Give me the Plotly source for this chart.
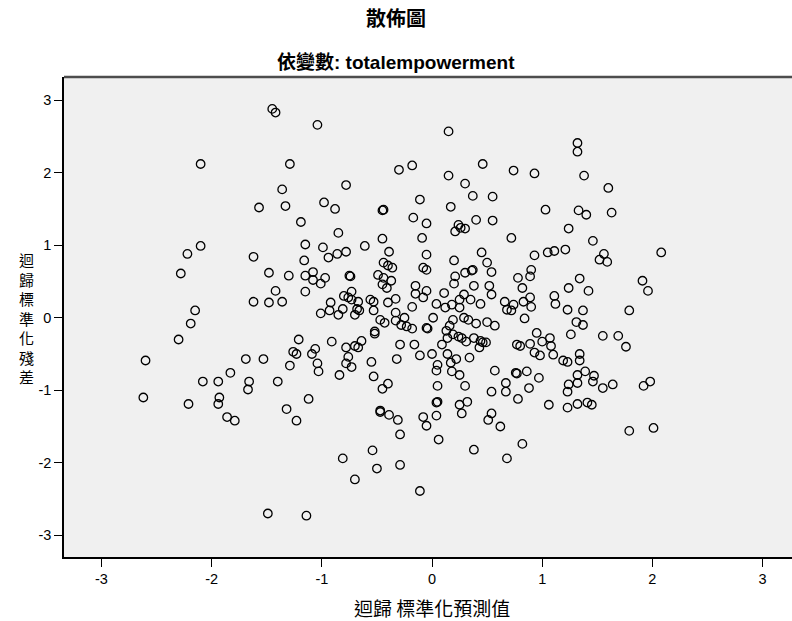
import plotly.graph_objects as go

# Standardized predicted value (x) and standardized residual (y) for each case
pred = [
    -1.45, -1.42, -2.10, -1.29, -1.36, -1.57, -1.33, -1.19,
    -1.04, 0.15, -0.30, -0.18, 0.46, 0.74, 0.93, -0.78, 0.15, 0.30, 0.37, 0.55,
    -0.98, -0.88, -0.44, -0.45, -0.11, 0.17, 1.03, -0.17, -0.05, 0.24, 0.26, 0.30,
    0.21, 0.40, 0.55, -0.85, -0.45, -0.09, 0.72,
    1.32, 1.32, 1.38, 1.60, 1.33, 1.40, 1.63, 1.24, 1.46,
    -2.10, -2.22, -2.28, -1.62, -1.15, -1.16, -1.15, -1.15, -1.48, -1.30, -1.42,
    -1.62, -1.48, -1.36, -2.15, -2.19, -2.30, -1.21, -1.26, -1.23, -2.60, -1.69,
    -1.53, -1.29, -1.83, -2.08, -1.94, -1.66, -1.67, -1.40, -2.62, -1.93, -2.21,
    -1.94, -1.12,
    -1.86, -1.79, -1.32, -1.23, -1.49, -1.14,
    -0.47, -0.47, -0.39, -0.31, -0.08, -0.05, 0.04, 0.05, 0.04, 0.25, 0.32, 0.27,
    0.54, 0.51, 0.62, 0.78, 1.06, -0.29, 0.06, -0.54, -0.81, -0.50, -0.29, -0.70,
    0.38, 0.68, 0.82, -0.11,
    1.23, 1.32, 1.41, 1.45, 1.79, 2.01,
    1.05, 1.11, 1.21, 1.56, 1.52, 1.59, 2.08, 1.34, 1.24, 1.42, 1.91, 1.96, 1.11,
    1.12, 1.23, 1.37, 1.79, 1.31, 1.37, 1.26, 1.55, 1.69, 1.76, 1.07, 1.08, 1.10,
    1.19, 1.23, 1.34, 1.34, 1.39, 1.32, 1.47, 1.32, 1.46, 1.24, 1.23, 1.55, 1.64,
    1.98, 1.92,
    -0.61, -0.99, -0.94, -0.86, -0.78, -0.39, -0.05, 0.45, 0.93, 0.20, 0.50, -0.44,
    -0.40, -0.36, -0.08, -0.05, 0.37, 0.36, 0.54, 0.30, 0.90, 0.89, -1.08, -0.97,
    -1.08, -1.01, -0.75, -0.74, -0.49, -0.44, -0.37, 0.21, 0.20, 0.78, -0.45, -0.41,
    -0.73, -0.15, -0.15, -0.05, -0.08, 0.38, 0.52, 0.54, 0.82, 0.11, 0.29, -0.80,
    -0.76, -0.73, -0.67, -0.56, -0.53, -0.33, -0.40, 0.35, 0.44, 0.25, 0.04, 0.12,
    0.18, 0.25, 0.66, 0.74, 0.68, 0.72, 0.83, 0.89, 0.90, -0.92, -0.93, -1.01,
    -0.85, -0.81, -0.68, -0.66, -0.70, -0.18, -0.53, -0.33, -0.33, -0.47, -0.43,
    -0.25, 0.01, 0.19, 0.29, 0.33, 0.40, 0.50, 0.57, 0.84, -0.28, -0.23, -0.18,
    -0.05, -0.04, 0.16, -0.52, -0.52, 0.13, 0.14, 0.19, 0.24, 0.27, 0.31, 0.38,
    0.44, 0.46, 0.49, 0.43, 0.95, 1.00, 0.77, 0.80, 0.89, 0.93, 0.98, 0.09, -1.06,
    -1.09, -1.04, -1.03, -0.91, -0.78, -0.76, -0.78, -0.73, -0.70, -0.67, -0.64,
    -0.29, -0.16, -0.11, 0.00, 0.14, 0.22, 0.34, -0.32, -0.55, 0.05, 0.04, 0.17,
    0.18, 0.25, -0.84, -0.53, -0.40, -0.45, 0.05, 0.30, 0.57, 0.76, 0.77, 0.86,
    0.97, 0.67, 0.67, 0.88, 0.54,
]

resid = [
    2.88, 2.83, 2.12, 2.12, 1.77, 1.52, 1.54, 1.32,
    2.66, 2.57, 2.04, 2.10, 2.12, 2.03, 1.99, 1.83, 1.96, 1.85, 1.68, 1.67,
    1.59, 1.50, 1.49, 1.48, 1.63, 1.53, 1.49, 1.38, 1.30, 1.28, 1.24, 1.23,
    1.19, 1.35, 1.34, 1.17, 1.09, 1.10, 1.10,
    2.41, 2.29, 1.96, 1.79, 1.48, 1.42, 1.45, 1.23, 1.06,
    0.99, 0.88, 0.61, 0.84, 1.01, 0.79, 0.58, 0.36, 0.62, 0.58, 0.37,
    0.22, 0.21, 0.22, 0.10, -0.08, -0.30, -0.30, -0.47, -0.50, -0.59, -0.57,
    -0.57, -0.66, -0.76, -0.88, -0.88, -0.88, -0.99, -0.88, -1.10, -1.10, -1.19,
    -1.19, -1.12,
    -1.37, -1.42, -1.26, -1.42, -2.70, -2.73,
    -1.28, -1.30, -1.34, -1.41, -1.37, -1.49, -1.35, -1.16, -1.17, -1.20, -1.16, -1.32,
    -1.32, -1.41, -1.50, -1.12, -1.20, -1.61, -1.68, -1.83, -1.94, -2.08, -2.03, -2.23,
    -1.82, -1.94, -1.74, -2.39,
    -1.24, -1.19, -1.17, -1.20, -1.56, -1.52,
    0.90, 0.92, 0.94, 0.88, 0.80, 0.77, 0.90, 0.54, 0.41, 0.37, 0.51, 0.37, 0.30,
    0.19, 0.11, 0.10, 0.10, -0.06, -0.10, -0.23, -0.25, -0.25, -0.40, -0.28, -0.39, -0.51,
    -0.59, -0.61, -0.50, -0.59, -0.74, -0.79, -0.80, -0.90, -0.88, -0.92, -1.02, -0.97, -0.92,
    -0.88, -0.94,
    0.99, 0.97, 0.83, 0.88, 0.91, 0.91, 0.87, 0.90, 0.86, 0.79, 0.76, 0.76,
    0.72, 0.69, 0.69, 0.66, 0.66, 0.65, 0.63, 0.62, 0.66, 0.57, 0.63, 0.55,
    0.52, 0.47, 0.58, 0.57, 0.59, 0.55, 0.51, 0.57, 0.47, 0.55, 0.46, 0.41,
    0.36, 0.44, 0.33, 0.37, 0.28, 0.44, 0.44, 0.32, 0.41, 0.34, 0.32, 0.30,
    0.28, 0.25, 0.22, 0.25, 0.22, 0.26, 0.21, 0.25, 0.19, 0.25, 0.19, 0.14,
    0.18, 0.14, 0.22, 0.18, 0.11, 0.10, 0.22, 0.28, 0.15, 0.21, 0.10, 0.06,
    0.04, 0.12, 0.12, 0.10, 0.04, 0.15, 0.10, 0.07, -0.04, -0.03, -0.07,
    0.00, 0.00, -0.03, 0.00, -0.03, -0.08, -0.06, -0.11, -0.01, -0.10, -0.12, -0.15,
    -0.14, -0.15, -0.11, -0.19, -0.22, -0.18, -0.28, -0.23, -0.26, -0.28, -0.33, -0.28,
    -0.32, -0.34, -0.34, -0.41, -0.21, -0.33, -0.37, -0.39, -0.36, -0.48, -0.52, -0.37, -0.43,
    -0.50, -0.63, -0.74, -0.33, -0.41, -0.54, -0.63, -0.68, -0.39, -0.41, -0.32,
    -0.37, -0.37, -0.52, -0.50, -0.50, -0.57, -0.55, -0.57, -0.61, -0.65, -0.73, -0.62,
    -0.74, -0.79, -0.79, -0.81, -0.91, -0.98, -0.94, -0.94, -0.73, -0.76, -0.77, -0.74,
    -0.83, -0.90, -1.02, -0.97, -1.02,
]

ticks = [-3, -2, -1, 0, 1, 2, 3]

chart_title = "散佈圖"
chart_subtitle = "依變數: totalempowerment"
x_title = "迴歸 標準化預測值"
y_title = "迴歸標準化殘差"

CJK = "Noto Sans CJK TC, Noto Sans CJK SC, sans-serif"
LATIN_CJK = "Liberation Sans, Arial, Noto Sans CJK TC, sans-serif"
TICK_FONT = dict(family="Liberation Sans Narrow, Arial Narrow, Liberation Sans, Arial",
                 size=14.5, color="black")

fig = go.Figure(
    go.Scatter(
        x=pred, y=resid, mode="markers",
        marker=dict(symbol="circle-open", size=8.5, color="black",
                    line=dict(width=1.3)),
        hoverinfo="x+y",
    )
)

axis_common = dict(
    tickvals=ticks, ticktext=[str(t) for t in ticks],
    ticks="outside", ticklen=8, tickwidth=1, tickcolor="black",
    showline=True, linecolor="black", linewidth=1.5,
    showgrid=False, zeroline=False, tickfont=TICK_FONT,
)

fig.update_layout(
    width=792, height=621,
    margin=dict(l=64, r=0, t=77, b=64),
    paper_bgcolor="white", plot_bgcolor="#f0f0f0",
    showlegend=False,
    xaxis=dict(range=[-3.34, 3.267], **axis_common),
    yaxis=dict(range=[-3.30, 3.32], **axis_common),
)

# Frame line along the top of the plotting area
fig.add_shape(type="line", xref="paper", yref="paper", x0=0, x1=1, y0=1, y1=1,
              line=dict(color="#4d4d4d", width=2.5))

annotations = [
    dict(text=f"<b>{chart_title}</b>", xref="paper", yref="paper", x=0.456, y=1.123,
         xanchor="center", yanchor="middle", showarrow=False,
         font=dict(family=CJK, size=20, color="black")),
    dict(text=f"<b>{chart_subtitle}</b>", xref="paper", yref="paper", x=0.456, y=1.031,
         xanchor="center", yanchor="middle", showarrow=False,
         font=dict(family=LATIN_CJK, size=19, color="black")),
    dict(text=x_title, xref="x", yref="paper", x=0, y=-0.106,
         xanchor="center", yanchor="middle", showarrow=False,
         font=dict(family=CJK, size=19, color="black")),
    # Vertical axis title: upright characters stacked top to bottom
    dict(text="<br>".join(y_title), xref="paper", yref="y", x=-0.052, y=0,
         xanchor="center", yanchor="middle", showarrow=False,
         font=dict(family=CJK, size=15, color="black")),
]

fig.update_layout(annotations=annotations)

fig.write_html("out.html")
